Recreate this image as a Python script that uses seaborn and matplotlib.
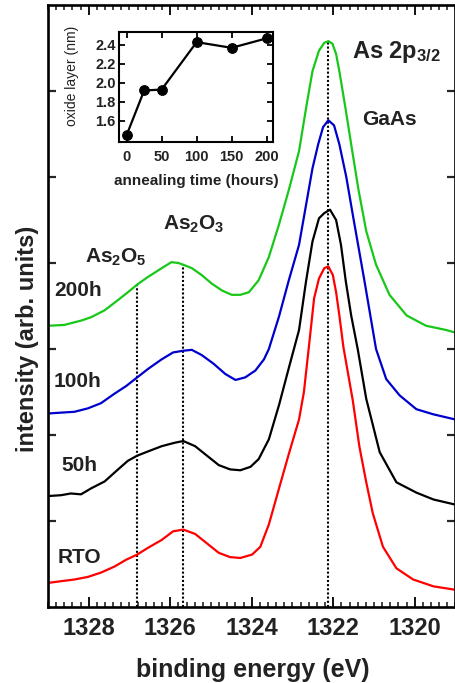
import numpy as np
import pandas as pd
import matplotlib
matplotlib.use("Agg")
import matplotlib.pyplot as plt
import seaborn as sns
from matplotlib.ticker import MultipleLocator, FixedLocator, NullFormatter

# ---------------- data ----------------
green_x = [1329.00, 1328.60, 1328.19, 1327.94, 1327.61, 1327.28, 1327.04, 1326.81, 1326.54, 1326.21,
           1325.97, 1325.80, 1325.68, 1325.47, 1325.23, 1324.98, 1324.73, 1324.49, 1324.28, 1324.07,
           1323.83, 1323.58, 1323.33, 1323.09, 1322.84, 1322.65, 1322.51, 1322.35, 1322.22, 1322.12,
           1322.02, 1321.93, 1321.85, 1321.70, 1321.56, 1321.38, 1321.19, 1320.95, 1320.62, 1320.20,
           1319.72, 1319.22, 1319.00]
green_y = [3.27, 3.28, 3.33, 3.37, 3.45, 3.57, 3.66, 3.75, 3.84, 3.94,
           4.01, 4.00, 3.98, 3.94, 3.86, 3.76, 3.68, 3.63, 3.63, 3.66,
           3.80, 4.07, 4.45, 4.85, 5.30, 5.85, 6.23, 6.47, 6.56, 6.58,
           6.55, 6.43, 6.23, 5.80, 5.38, 4.85, 4.37, 3.98, 3.63, 3.39,
           3.27, 3.22, 3.19]

blue_x = [1329.00, 1328.68, 1328.35, 1328.02, 1327.70, 1327.37, 1327.08, 1326.81, 1326.54, 1326.21,
          1325.93, 1325.68, 1325.47, 1325.23, 1324.94, 1324.65, 1324.40, 1324.16, 1323.91, 1323.70,
          1323.58, 1323.33, 1323.09, 1322.84, 1322.51, 1322.37, 1322.25, 1322.12, 1321.98, 1321.85,
          1321.68, 1321.52, 1321.23, 1320.95, 1320.70, 1320.37, 1319.96, 1319.54, 1319.00]
blue_y = [2.25, 2.26, 2.27, 2.31, 2.37, 2.48, 2.57, 2.67, 2.77, 2.88,
          2.96, 2.98, 2.99, 2.93, 2.83, 2.71, 2.64, 2.67, 2.75, 2.88,
          3.00, 3.38, 3.80, 4.21, 5.10, 5.38, 5.58, 5.66, 5.60, 5.38,
          5.00, 4.56, 3.78, 3.00, 2.65, 2.46, 2.30, 2.24, 2.18]

black_x = [1329.00, 1328.68, 1328.44, 1328.19, 1327.94, 1327.61, 1327.28, 1327.04, 1326.81, 1326.54,
           1326.21, 1325.89, 1325.68, 1325.39, 1325.10, 1324.81, 1324.53, 1324.28, 1324.03, 1323.83,
           1323.58, 1323.33, 1323.09, 1322.84, 1322.67, 1322.51, 1322.35, 1322.22, 1322.08, 1321.93,
           1321.81, 1321.69, 1321.56, 1321.40, 1321.19, 1320.86, 1320.45, 1319.96, 1319.54, 1319.00]
black_y = [1.29, 1.30, 1.32, 1.31, 1.38, 1.46, 1.60, 1.70, 1.76, 1.81,
           1.87, 1.91, 1.93, 1.87, 1.76, 1.65, 1.60, 1.59, 1.63, 1.72,
           1.95, 2.35, 2.78, 3.22, 3.78, 4.25, 4.52, 4.58, 4.62, 4.50,
           4.21, 3.78, 3.39, 3.00, 2.42, 1.80, 1.45, 1.33, 1.25, 1.19]

red_x = [1329.00, 1328.68, 1328.35, 1328.02, 1327.70, 1327.37, 1327.08, 1326.81, 1326.54, 1326.21,
         1325.93, 1325.68, 1325.39, 1325.10, 1324.81, 1324.53, 1324.28, 1323.99, 1323.79, 1323.58,
         1323.33, 1323.09, 1322.84, 1322.72, 1322.59, 1322.47, 1322.35, 1322.22, 1322.12, 1322.01,
         1321.93, 1321.85, 1321.75, 1321.52, 1321.36, 1321.19, 1321.03, 1320.78, 1320.45, 1320.04,
         1319.54, 1319.00]
red_y = [0.28, 0.30, 0.32, 0.35, 0.40, 0.47, 0.55, 0.61, 0.69, 0.78,
         0.88, 0.90, 0.85, 0.74, 0.63, 0.58, 0.57, 0.61, 0.70, 0.96,
         1.38, 1.78, 2.18, 2.50, 3.06, 3.59, 3.82, 3.94, 3.96, 3.86,
         3.66, 3.39, 3.02, 2.40, 1.87, 1.45, 1.09, 0.70, 0.45, 0.32,
         0.24, 0.20]

sample_names = ["RTO", "50h", "100h", "200h"]
sample_colors = ["#ff0000", "#000000", "#0000cc", "#18c818"]

# dotted reference lines (binding energies)
ref_energies = [1326.81, 1325.68, 1322.12]

# inset: oxide thickness vs annealing time
hours = [0, 25, 50, 100, 150, 200]
oxide_nm = [1.45, 1.92, 1.93, 2.43, 2.37, 2.47]

# ---------------- styling ----------------
sns.set_style("ticks")
plt.rcParams["font.family"] = ["Liberation Sans", "DejaVu Sans"]
plt.rcParams["mathtext.fontset"] = "custom"
plt.rcParams["mathtext.rm"] = "Liberation Sans:bold"
plt.rcParams["mathtext.bf"] = "Liberation Sans:bold"
plt.rcParams["mathtext.it"] = "Liberation Sans:bold"
plt.rcParams["mathtext.default"] = "bf"
plt.rcParams["axes.edgecolor"] = "black"
plt.rcParams["text.color"] = "#222222"

W, H = 456, 683
fig = plt.figure(figsize=(W / 100, H / 100), dpi=100)
fig.patch.set_facecolor("white")

ax = fig.add_axes([48 / W, 1 - 607 / H, 407.5 / W, 602 / H])

frames = []
for name, xs, ys in [("RTO", red_x, red_y), ("50h", black_x, black_y),
                     ("100h", blue_x, blue_y), ("200h", green_x, green_y)]:
    frames.append(pd.DataFrame({"energy": xs, "intensity": ys, "sample": name}))
df = pd.concat(frames, ignore_index=True)

sns.lineplot(data=df, x="energy", y="intensity", hue="sample", hue_order=sample_names,
             palette=sample_colors, sort=False, estimator=None, legend=False,
             linewidth=1.6, ax=ax)

# dotted vertical lines up to the 200h curve
gx = np.array(green_x)[::-1]
gy = np.array(green_y)[::-1]
for e in ref_energies:
    top = np.interp(e, gx, gy)
    ax.plot([e, e], [0, top], color="black", lw=1.5, linestyle=(0, (1, 1)), zorder=1)

ax.set_xlim(1329, 1319)
ax.set_ylim(0, 7)
ax.xaxis.set_major_locator(MultipleLocator(2))
ax.xaxis.set_minor_locator(MultipleLocator(0.2))
ax.yaxis.set_major_locator(FixedLocator([1, 2, 3, 4, 5, 6]))
ax.yaxis.set_major_formatter(NullFormatter())
ax.tick_params(axis="x", which="major", direction="in", length=7, width=1.3,
               top=True, bottom=True, labelsize=17, pad=7, colors="black", labelcolor="#222222")
ax.tick_params(axis="x", which="minor", direction="in", length=3.5, width=1.2,
               top=True, bottom=True)
ax.tick_params(axis="y", which="major", direction="in", length=6, width=1.6,
               left=True, right=True)
for lab in ax.get_xticklabels():
    lab.set_fontweight("bold")
for s in ax.spines.values():
    s.set_linewidth(1.9)
    s.set_visible(True)

ax.set_xlabel("binding energy (eV)", fontsize=18, fontweight="bold", color="#222222")
ax.xaxis.set_label_coords(0.502, -0.084)
ax.set_ylabel("intensity (arb. units)", fontsize=17, fontweight="bold", color="#222222")
ax.yaxis.set_label_coords(-0.022, 0.445)

# annotations
ax.text(1320.44, 6.45, r"As 2p$_{3/2}$", fontsize=17, fontweight="bold", ha="center", va="center")
ax.text(1320.62, 5.67, "GaAs", fontsize=15, fontweight="bold", ha="center", va="center")
ax.text(1325.43, 4.45, r"As$_{2}$O$_{3}$", fontsize=15, fontweight="bold", ha="center", va="center")
ax.text(1327.33, 4.07, r"As$_{2}$O$_{5}$", fontsize=15, fontweight="bold", ha="center", va="center")
label_pos = [(1328.22, 0.57), (1328.22, 1.64), (1328.27, 2.62), (1328.27, 3.68)]
for name, (lx, ly) in zip(sample_names, label_pos):
    ax.text(lx, ly, name, fontsize=15, fontweight="bold", ha="center", va="center")

# ---------------- inset ----------------
axin = fig.add_axes([119.3 / W, 1 - 141.7 / H, 154 / W, 110 / H])
sns.lineplot(x=hours, y=oxide_nm, marker="o", color="black", markersize=7,
             markeredgecolor="black", linewidth=1.6, ax=axin)
axin.set_xlim(-10.5, 209.5)
axin.set_ylim(1.38, 2.54)
axin.xaxis.set_major_locator(FixedLocator([0, 50, 100, 150, 200]))
axin.yaxis.set_major_locator(FixedLocator([1.6, 1.8, 2.0, 2.2, 2.4]))
axin.yaxis.set_major_formatter(matplotlib.ticker.FormatStrFormatter("%.1f"))
axin.tick_params(axis="both", which="major", direction="in", length=4, width=1.3,
                 top=True, right=True, labelsize=10.5, colors="black", labelcolor="#222222")
axin.tick_params(axis="x", pad=6)
axin.tick_params(axis="y", pad=2.5)
for lab in axin.get_xticklabels() + axin.get_yticklabels():
    lab.set_fontweight("bold")
for s in axin.spines.values():
    s.set_linewidth(1.5)
axin.set_xlabel("annealing time (hours)", fontsize=11, fontweight="bold", color="#222222")
axin.xaxis.set_label_coords(0.5, -0.29)
axin.set_ylabel("oxide layer (nm)", fontsize=10, color="#222222")
axin.yaxis.set_label_coords(-0.26, 0.6)

fig.savefig("out.png", dpi=100, facecolor="white")
